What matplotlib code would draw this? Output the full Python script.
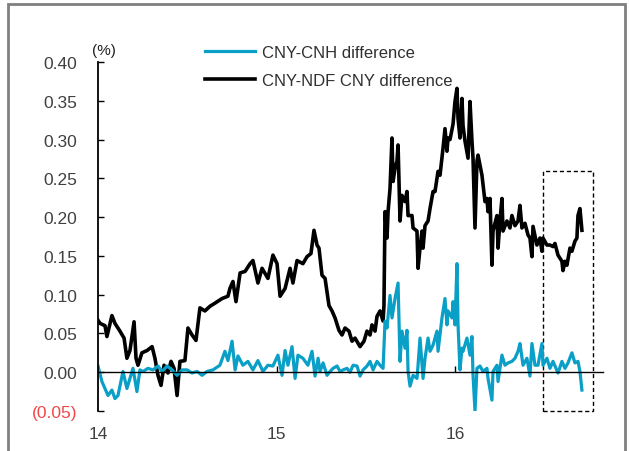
import matplotlib
matplotlib.use("Agg")
import matplotlib.pyplot as plt
from matplotlib.patches import Rectangle

plt.rcParams['font.family'] = ['Liberation Sans', 'DejaVu Sans']

# CNY-NDF CNY difference (black)
ndf_x = [14.000, 14.011, 14.039, 14.050, 14.078, 14.095, 14.123, 14.146, 14.162, 14.179,
         14.202, 14.213, 14.224, 14.246, 14.275, 14.303, 14.319, 14.336, 14.353, 14.370,
         14.392, 14.409, 14.426, 14.443, 14.459, 14.487, 14.504, 14.527, 14.549, 14.571,
         14.599, 14.627, 14.655, 14.695, 14.728, 14.739, 14.756, 14.773, 14.796, 14.824,
         14.852, 14.868, 14.896, 14.919, 14.952, 14.980, 15.003, 15.020, 15.048, 15.076,
         15.092, 15.115, 15.148, 15.171, 15.193, 15.210, 15.227, 15.238, 15.255, 15.272,
         15.294, 15.311, 15.328, 15.350, 15.367, 15.384, 15.406, 15.423, 15.440, 15.468,
         15.490, 15.507, 15.524, 15.535, 15.552, 15.563, 15.580, 15.597, 15.602, 15.608,
         15.619, 15.625, 15.636, 15.647, 15.653, 15.664, 15.675, 15.681, 15.692, 15.703,
         15.720, 15.731, 15.737, 15.759, 15.765, 15.787, 15.793, 15.804, 15.815, 15.821,
         15.832, 15.849, 15.860, 15.877, 15.888, 15.899, 15.905, 15.916, 15.933, 15.944,
         15.955, 15.961, 15.972, 15.989, 16.000, 16.011, 16.017, 16.028, 16.039, 16.045,
         16.056, 16.073, 16.084, 16.095, 16.101, 16.112, 16.123, 16.129, 16.151, 16.168,
         16.179, 16.185, 16.196, 16.207, 16.213, 16.235, 16.241, 16.252, 16.263, 16.269,
         16.291, 16.308, 16.319, 16.336, 16.353, 16.364, 16.375, 16.392, 16.409, 16.420,
         16.431, 16.437, 16.459, 16.476, 16.487, 16.493, 16.515, 16.532, 16.549, 16.560,
         16.571, 16.577, 16.599, 16.605, 16.616, 16.627, 16.644, 16.655, 16.672, 16.683,
         16.689, 16.700, 16.711]
ndf_y = [0.067, 0.063, 0.060, 0.046, 0.073, 0.063, 0.053, 0.044, 0.018, 0.028,
         0.065, 0.018, 0.009, 0.025, 0.028, 0.033, 0.018, -0.004, -0.017, 0.009,
         -0.001, 0.014, 0.005, -0.030, 0.014, 0.015, 0.057, 0.048, 0.041, 0.083,
         0.079, 0.085, 0.089, 0.095, 0.098, 0.108, 0.117, 0.091, 0.128, 0.130,
         0.140, 0.144, 0.115, 0.134, 0.121, 0.151, 0.140, 0.098, 0.108, 0.134,
         0.115, 0.144, 0.140, 0.149, 0.153, 0.183, 0.164, 0.160, 0.125, 0.121,
         0.086, 0.079, 0.070, 0.054, 0.048, 0.057, 0.053, 0.040, 0.044, 0.033,
         0.040, 0.053, 0.048, 0.061, 0.053, 0.072, 0.079, 0.066, 0.086, 0.207,
         0.173, 0.207, 0.237, 0.302, 0.246, 0.263, 0.272, 0.293, 0.195, 0.228,
         0.220, 0.233, 0.202, 0.202, 0.186, 0.182, 0.134, 0.160, 0.182, 0.160,
         0.189, 0.195, 0.211, 0.233, 0.233, 0.250, 0.259, 0.254, 0.289, 0.314,
         0.285, 0.302, 0.300, 0.320, 0.349, 0.366, 0.327, 0.302, 0.353, 0.318,
         0.298, 0.276, 0.349, 0.298, 0.276, 0.186, 0.272, 0.280, 0.254, 0.220,
         0.224, 0.207, 0.224, 0.138, 0.182, 0.202, 0.160, 0.195, 0.224, 0.182,
         0.195, 0.186, 0.202, 0.189, 0.195, 0.215, 0.186, 0.192, 0.177, 0.173,
         0.149, 0.188, 0.164, 0.173, 0.156, 0.173, 0.164, 0.164, 0.162, 0.166,
         0.156, 0.151, 0.143, 0.131, 0.143, 0.138, 0.160, 0.156, 0.169, 0.173,
         0.202, 0.211, 0.183]

# CNY-CNH difference (blue)
cnh_x = [14.000, 14.022, 14.039, 14.056, 14.078, 14.095, 14.112, 14.140, 14.162, 14.179,
         14.196, 14.218, 14.235, 14.252, 14.280, 14.308, 14.336, 14.359, 14.387, 14.415,
         14.443, 14.471, 14.499, 14.527, 14.555, 14.583, 14.611, 14.644, 14.683, 14.711,
         14.728, 14.751, 14.768, 14.784, 14.812, 14.840, 14.868, 14.896, 14.924, 14.952,
         14.980, 15.008, 15.031, 15.048, 15.064, 15.087, 15.104, 15.120, 15.148, 15.176,
         15.199, 15.216, 15.233, 15.244, 15.261, 15.283, 15.300, 15.317, 15.339, 15.356,
         15.373, 15.395, 15.412, 15.429, 15.451, 15.468, 15.485, 15.507, 15.524, 15.541,
         15.563, 15.580, 15.597, 15.608, 15.619, 15.636, 15.647, 15.664, 15.675, 15.681,
         15.692, 15.703, 15.720, 15.731, 15.737, 15.748, 15.765, 15.787, 15.793, 15.804,
         15.821, 15.832, 15.849, 15.860, 15.877, 15.899, 15.905, 15.927, 15.944, 15.955,
         15.961, 15.983, 15.989, 16.000, 16.011, 16.017, 16.028, 16.039, 16.045, 16.067,
         16.084, 16.095, 16.101, 16.112, 16.123, 16.140, 16.157, 16.179, 16.185, 16.207,
         16.213, 16.235, 16.241, 16.263, 16.280, 16.297, 16.319, 16.336, 16.353, 16.364,
         16.381, 16.403, 16.420, 16.431, 16.448, 16.465, 16.487, 16.493, 16.515, 16.532,
         16.549, 16.577, 16.599, 16.616, 16.633, 16.655, 16.672, 16.689, 16.700, 16.711]
cnh_y = [0.008, -0.012, -0.021, -0.030, -0.023, -0.034, -0.030, 0.001, -0.021, -0.008,
         0.005, -0.025, 0.003, 0.001, 0.005, 0.003, 0.008, 0.001, 0.008, 0.003,
         -0.004, 0.003, 0.003, -0.001, 0.001, -0.004, 0.001, 0.003, 0.009, 0.027,
         0.015, 0.040, 0.003, 0.021, 0.009, 0.014, 0.003, 0.015, 0.001, 0.009,
         0.008, 0.022, -0.004, 0.028, 0.009, 0.033, -0.008, 0.022, 0.018, 0.009,
         0.027, -0.005, 0.018, 0.001, 0.012, -0.004, 0.001, 0.005, 0.008, 0.001,
         0.003, 0.005, 0.000, 0.009, 0.008, -0.005, 0.003, 0.008, 0.014, 0.003,
         0.014, 0.009, 0.005, 0.066, 0.057, 0.099, 0.070, 0.095, 0.108, 0.115,
         0.014, 0.053, 0.031, 0.054, 0.001, -0.018, -0.004, -0.008, 0.009, 0.044,
         -0.008, 0.018, 0.044, 0.027, 0.035, 0.053, 0.027, 0.070, 0.095, 0.061,
         0.079, 0.070, 0.091, 0.061, 0.140, 0.061, 0.003, 0.031, 0.027, 0.044,
         0.022, 0.046, -0.004, -0.050, 0.005, 0.008, 0.001, 0.005, -0.008, -0.036,
         0.001, 0.009, -0.012, 0.022, 0.009, 0.012, 0.014, 0.018, 0.027, 0.037,
         0.009, 0.018, -0.005, 0.037, 0.009, 0.009, 0.037, 0.009, 0.018, 0.005,
         0.014, -0.001, 0.014, 0.005, 0.012, 0.025, 0.012, 0.014, 0.001, -0.023]

y_ticks = [-0.05, 0.00, 0.05, 0.10, 0.15, 0.20, 0.25, 0.30, 0.35, 0.40]
y_tick_labels = ['(0.05)', '0.00', '0.05', '0.10', '0.15', '0.20', '0.25', '0.30', '0.35', '0.40']
x_ticks = [14, 15, 16]
x_tick_labels = ['14', '15', '16']
box_x = [16.493, 16.773]
box_y = [-0.05, 0.26]

W, H = 629, 452
fig = plt.figure(figsize=(W / 100, H / 100), dpi=100)
ax = fig.add_axes([98 / W, 1 - 412 / H, 505 / W, (412 - 63) / H])

blue = '#0A9FC6'
ax.plot(ndf_x, ndf_y, color='black', lw=2.6, label='CNY-NDF CNY difference')
ax.plot(cnh_x, cnh_y, color=blue, lw=2.3, label='CNY-CNH difference')

ax.set_xlim(14, 14 + 505 / 178.5)
ax.set_ylim(-0.05, 0.40)

for s in ['top', 'right']:
    ax.spines[s].set_visible(False)
ax.spines['left'].set_linewidth(1.3)
ax.spines['bottom'].set_position(('data', 0))
ax.spines['bottom'].set_linewidth(1.0)

ax.set_yticks(y_ticks)
ax.set_yticklabels(y_tick_labels)
ax.tick_params(axis='y', direction='in', length=4, width=1, pad=15, labelsize=12.5, labelcolor='#404040')
ax.get_yticklabels()[0].set_color('#F04848')
ax.set_xticks(x_ticks)
ax.set_xticklabels(x_tick_labels)
ax.tick_params(axis='x', direction='in', length=4, width=1, pad=39, labelsize=12.5, labelcolor='#404040')

# dashed highlight box
ax.add_patch(Rectangle((box_x[0], box_y[0]), box_x[1] - box_x[0], box_y[1] - box_y[0],
                       fill=False, ec='black', lw=1.0, ls=(0, (3, 2)), clip_on=False))

fig.text(104 / W, 1 - 51 / H, '(%)', ha='center', va='center', fontsize=11, color='#202020')

handles, labels = ax.get_legend_handles_labels()
leg = fig.legend([handles[1], handles[0]], [labels[1], labels[0]], loc='upper left',
                 bbox_to_anchor=(205 / W, 1 - 46 / H), bbox_transform=fig.transFigure,
                 frameon=False, fontsize=12, handlelength=3.0, handletextpad=0.4,
                 labelspacing=0.75, borderpad=0, borderaxespad=0)
for t in leg.get_texts():
    t.set_color('#303030')

# outer grey frame
fig.patches.append(Rectangle((8 / W, -0.1), 617 / W, 1.1 - 5 / H, transform=fig.transFigure,
                             fill=False, ec='#808080', lw=2.0))

fig.savefig('out.png', dpi=100)
